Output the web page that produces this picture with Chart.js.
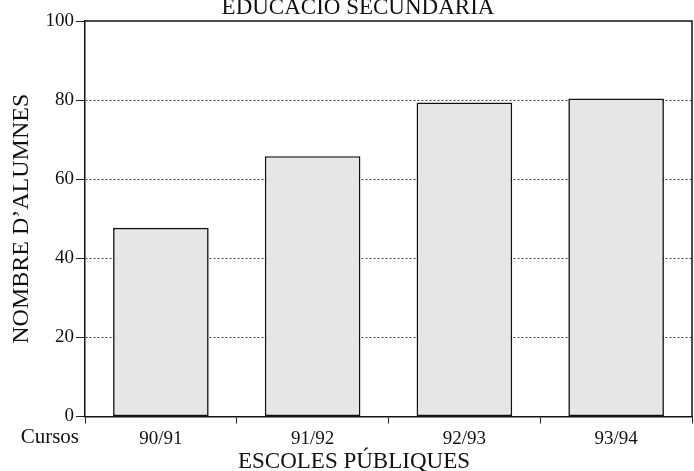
<!DOCTYPE html>
<html>
<head>
<meta charset="utf-8">
<script src="https://cdn.jsdelivr.net/npm/chart.js@4/dist/chart.umd.min.js"></script>
<style>
html,body{margin:0;padding:0;background:#fff;}
#wrap{position:relative;width:694px;height:471px;}
</style>
</head>
<body>
<div id="wrap"><canvas id="c" width="694" height="471"></canvas></div>
<script>
const chartTitle = "EDUCACIÓ SECUNDÀRIA";
const categories = ["90/91", "91/92", "92/93", "93/94"];
const alumnes = [47.7, 65.8, 79.4, 80.4];
const yTicks = [0, 20, 40, 60, 80, 100];
const xAxisTitle = "ESCOLES PÚBLIQUES";
const yAxisTitle = "NOMBRE D’ALUMNES";
const rowLabel = "Cursos";

const serif = "'Liberation Serif', 'DejaVu Serif', serif";

const extras = {
  id: 'extras',
  afterDraw(chart) {
    const ctx = chart.ctx;
    const a = chart.chartArea;
    ctx.save();
    // frame top & right
    ctx.strokeStyle = '#111';
    ctx.lineWidth = 1.5;
    ctx.beginPath();
    ctx.moveTo(a.left, a.top);
    ctx.lineTo(a.right, a.top);
    ctx.lineTo(a.right, a.bottom);
    ctx.stroke();
    ctx.fillStyle = '#111';
    // title (partially cut at top)
    ctx.font = "23px " + serif;
    ctx.textAlign = 'center';
    ctx.textBaseline = 'alphabetic';
    ctx.fillText(chartTitle, 358, 14);
    // x axis title
    ctx.font = "23px " + serif;
    ctx.fillText(xAxisTitle, 354, 468);
    // Cursos row label, aligned with the x tick labels
    ctx.font = "21px " + serif;
    ctx.textAlign = 'right';
    ctx.textBaseline = 'alphabetic';
    ctx.fillText(rowLabel, 79, a.bottom + 26);
    ctx.restore();
  }
};

new Chart(document.getElementById('c'), {
  type: 'bar',
  data: {
    labels: categories,
    datasets: [{
      data: alumnes,
      backgroundColor: '#e6e6e6',
      borderColor: '#111',
      borderWidth: 1.6,
      borderSkipped: false,
      barPercentage: 0.63,
      categoryPercentage: 1.0
    }]
  },
  options: {
    responsive: false,
    animation: false,
    layout: { padding: { left: 0, right: 2, top: 21, bottom: 0 } },
    plugins: { legend: { display: false }, tooltip: { enabled: false }, title: { display: false } },
    scales: {
      x: {
        afterFit(s) { s.height = 54.5; },
        grid: {
          offset: true,
          drawOnChartArea: false,
          drawTicks: true,
          tickLength: 7,
          tickColor: '#222',
          tickWidth: 1
        },
        border: { display: true, color: '#111', width: 1.5 },
        ticks: {
          color: '#111',
          padding: 4,
          font: { family: serif, size: 19 }
        }
      },
      y: {
        min: 0,
        max: 100,
        afterFit(s) { s.width = 85; },
        afterBuildTicks(s) { s.ticks = yTicks.map(v => ({ value: v })); },
        grid: {
          color: ctx => (ctx.tick && (ctx.tick.value === 0 || ctx.tick.value === 100)) ? 'rgba(0,0,0,0)' : '#444',
          lineWidth: 1,
          drawTicks: true,
          tickLength: 9,
          tickColor: '#222',
          tickWidth: 1,
          tickBorderDash: []
        },
        border: { display: true, color: '#111', width: 1.5, dash: [2, 2] },
        ticks: {
          color: '#111',
          padding: 2,
          font: { family: serif, size: 19 }
        },
        title: {
          display: true,
          text: yAxisTitle,
          color: '#111',
          font: { family: serif, size: 24 },
          padding: { top: 7, bottom: 0 }
        }
      }
    }
  },
  plugins: [extras]
});
</script>
</body>
</html>
